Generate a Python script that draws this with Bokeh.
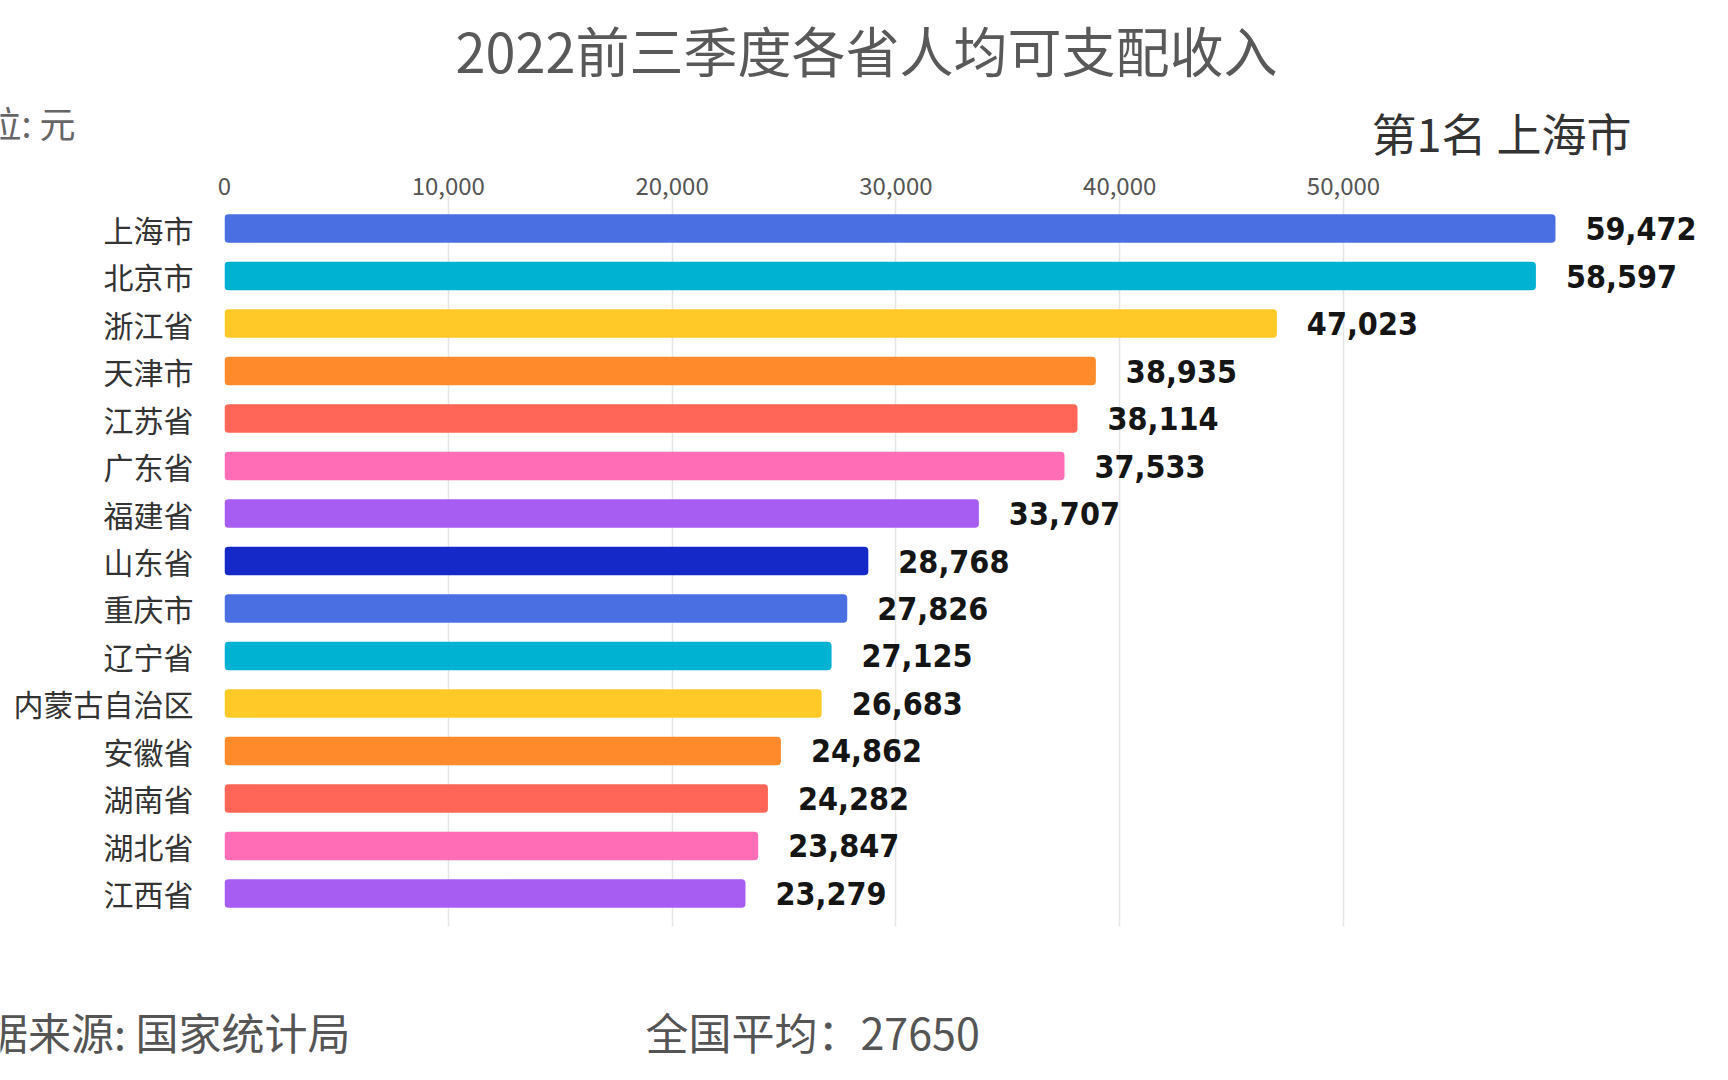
from bokeh.plotting import figure
from bokeh.layouts import column
from bokeh.models import ColumnDataSource, FactorRange, FixedTicker, NumeralTickFormatter, Label, LabelSet, Range1d
from bokeh.core.properties import value
from bokeh.embed import file_html
from bokeh.resources import INLINE

provinces = ["上海市", "北京市", "浙江省", "天津市", "江苏省", "广东省", "福建省", "山东省",
             "重庆市", "辽宁省", "内蒙古自治区", "安徽省", "湖南省", "湖北省", "江西省"]
values = [59472, 58597, 47023, 38935, 38114, 37533, 33707, 28768,
          27826, 27125, 26683, 24862, 24282, 23847, 23279]
colors = ["#4A6FE3", "#00B2D2", "#FFC928", "#FF8A2B", "#FF6657", "#FF6DB6", "#A75CF2", "#1429C8",
          "#4A6FE3", "#00B2D2", "#FFC928", "#FF8A2B", "#FF6657", "#FF6DB6", "#A75CF2"]
tick_values = [0, 10000, 20000, 30000, 40000, 50000]
title_text = "2022前三季度各省人均可支配收入"
unit_text = "单位: 元"
rank_text = "第1名 上海市"
source_text = "数据来源: 国家统计局"
avg_text = "全国平均：27650"

CJK = "Noto Sans CJK SC"
NUM = "'Liberation Sans Narrow', 'DejaVu Sans Condensed', 'Noto Sans', sans-serif"

W = 1712
TOP_H, MAIN_H, BOT_H = 165, 825, 74
FL, FR = 224, W              # frame left/right (px)
FT, FB = 195, 926            # frame top/bottom on the page (px)
PX_PER_10K = 223.8
X_END = (FR - FL) / PX_PER_10K * 10000
PAD = 0.195


def text_fig(h):
    f = figure(width=W, height=h, output_backend="svg", toolbar_location=None,
               x_range=Range1d(0, W), y_range=Range1d(h, 0),
               x_axis_type=None, y_axis_type=None, frame_align=False,
               min_border=0, min_border_left=0, min_border_right=0,
               min_border_top=0, min_border_bottom=0)
    f.outline_line_color = None
    f.background_fill_color = "white"
    f.border_fill_color = "white"
    f.xgrid.visible = False
    f.ygrid.visible = False
    return f


def add_text(f, x, y, text, align, size, color):
    f.add_layout(Label(x=x, y=y, text=text, text_align=align, text_baseline="middle",
                       text_font=CJK, text_font_size=size, text_color=color))


# ---- header ----
top = text_fig(TOP_H)
add_text(top, 866, 49, title_text, "center", "54px", "#595959")
add_text(top, 75, 121, unit_text, "right", "36px", "#666666")
add_text(top, 1631, 132, rank_text, "right", "45px", "#333333")

# ---- main chart ----
src = ColumnDataSource(dict(
    prov=provinces, val=values, color=colors,
    label=[f"{v:,}" for v in values],
))

p = figure(width=W, height=MAIN_H, output_backend="svg", toolbar_location=None,
           y_range=FactorRange(factors=provinces[::-1], range_padding=PAD,
                               range_padding_units="absolute"),
           x_range=(0, X_END), x_axis_location="above", frame_align=False,
           min_border_left=FL, min_border_right=W - FR,
           min_border_top=FT - TOP_H, min_border_bottom=TOP_H + MAIN_H - FB)
p.outline_line_color = None
p.background_fill_color = "white"
p.border_fill_color = "white"

p.hbar(y="prov", right="val", left=0, height=0.6, color="color", source=src,
       line_color=None, border_radius=4)

labels = LabelSet(x="val", y="prov", text="label", source=src, x_offset=30,
                  text_baseline="middle", text_font=value(NUM), text_font_style="bold",
                  text_font_size="32px", text_color="#151515")
p.add_layout(labels)

xa = p.xaxis[0]
xa.ticker = FixedTicker(ticks=tick_values)
xa.formatter = NumeralTickFormatter(format="0,0")
xa.axis_line_color = None
xa.major_tick_line_color = None
xa.minor_tick_line_color = None
xa.major_tick_out = 0
xa.major_tick_in = 0
xa.major_label_text_font = CJK
xa.major_label_text_font_size = "24px"
xa.major_label_text_color = "#555555"
xa.major_label_standoff = 1

ya = p.yaxis[0]
ya.axis_line_color = None
ya.major_tick_line_color = None
ya.major_tick_out = 0
ya.major_tick_in = 0
ya.major_label_standoff = 31
ya.major_label_text_font = CJK
ya.major_label_text_font_size = "30px"
ya.major_label_text_color = "#333333"

p.ygrid.grid_line_color = None
p.xgrid.ticker = FixedTicker(ticks=tick_values)
p.xgrid.grid_line_color = "#e6e6e6"
p.xgrid.grid_line_width = 1.5

# ---- footer ----
bot = text_fig(BOT_H)
off = TOP_H + MAIN_H
add_text(bot, 350, 1030 - off, source_text, "right", "43px", "#555555")
add_text(bot, 645, 1030 - off, avg_text, "left", "43px", "#555555")

layout = column(top, p, bot, spacing=0)
open("out.html", "w").write(file_html(layout, INLINE))
